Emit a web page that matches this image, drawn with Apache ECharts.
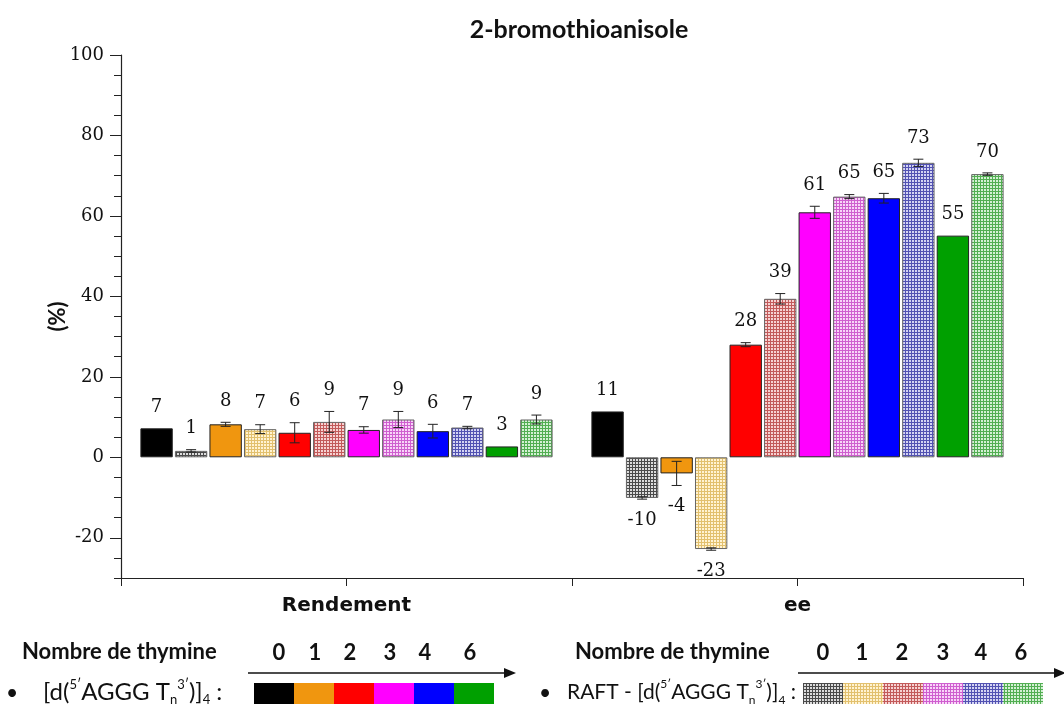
<!DOCTYPE html>
<html>
<head>
<meta charset="utf-8">
<script src="https://cdn.jsdelivr.net/npm/echarts@6/dist/echarts.min.js"></script>
<style>
  html, body { margin: 0; background: #fff; }
  #main { width: 1064px; height: 704px; }
</style>
</head>
<body>
<div id="main"></div>
<script>
// categories on the x axis
var categories = ['Rendement', 'ee'];
var thymine = ['0', '1', '2', '3', '4', '6'];
var yTicks = [-20, 0, 20, 40, 60, 80, 100];

// 12 bars per group : [d(AGGG Tn)]4 then RAFT, for n = 0,1,2,3,4,6
var rendement       = [7.2, 1.6, 8.2, 7.0, 6.1, 8.8, 6.8, 9.4, 6.5, 7.4, 2.7, 9.4];
var rendementErr    = [0, 0.3, 0.5, 1.1, 2.5, 2.6, 0.8, 2.0, 1.7, 0.3, 0, 1.1];
var rendementLabels = ['7', '1', '8', '7', '6', '9', '7', '9', '6', '7', '3', '9'];

var ee       = [11.4, -10.1, -4.0, -22.8, 28.0, 39.4, 60.9, 64.8, 64.4, 73.2, 55.1, 70.4];
var eeErr    = [0, 0.3, 3.0, 0.3, 0.5, 1.3, 1.5, 0.5, 1.2, 0.9, 0, 0.3];
var eeLabels = ['11', '-10', '-4', '-23', '28', '39', '61', '65', '65', '73', '55', '70'];

// colours
var solidColors = ['#000000', '#f0960f', '#ff0000', '#ff00ff', '#0000ff', '#00a000'];
var hatchColors = [
  ['#4a4a4a', '#dcdcdc'],
  ['#e2c06e', '#fff3d2'],
  ['#c25a5a', '#f6d2d2'],
  ['#cf5ecf', '#f8d4f8'],
  ['#5252b2', '#d4d4f2'],
  ['#52ae52', '#d4f0d4']
];

var barGap = 0.067, catGap = 0.086;

function makePattern(dark, light) {
  var c = document.createElement('canvas');
  c.width = 3; c.height = 3;
  var ctx = c.getContext('2d');
  ctx.fillStyle = dark;
  ctx.fillRect(0, 0, 3, 3);
  ctx.fillStyle = light;
  ctx.fillRect(0, 0, 2, 2);
  return { image: c, repeat: 'repeat' };
}
var patterns = hatchColors.map(function (p) { return makePattern(p[0], p[1]); });

var series = [];
for (var i = 0; i < 12; i++) {
  var t = Math.floor(i / 2);
  var raft = i % 2 === 1;
  series.push({
    type: 'bar',
    name: (raft ? 'RAFT n=' : 'n=') + thymine[t],
    data: [rendement[i], ee[i]],
    barGap: (barGap * 100) + '%',
    barCategoryGap: (catGap * 100) + '%',
    itemStyle: {
      color: raft ? patterns[t] : solidColors[t],
      borderColor: raft ? '#666' : '#222',
      borderWidth: 1
    }
  });
}

// error bars + value labels
var errData = [], errLabels = [];
for (var j = 0; j < 12; j++) {
  errData.push([0, j, rendement[j], rendementErr[j]]);
  errLabels.push(rendementLabels[j]);
  errData.push([1, j, ee[j], eeErr[j]]);
  errLabels.push(eeLabels[j]);
}

function renderErr(params, api) {
  var cat = api.value(0), idx = api.value(1), v = api.value(2), e = api.value(3);
  var band = api.size([1, 0])[0];
  var w = band * (1 - catGap) / (12 + 11 * barGap);
  var x = api.coord([cat, 0])[0] + (idx - 5.5) * w * (1 + barGap);
  var children = [];
  var yTop = api.coord([cat, v + e])[1];
  var yBot = api.coord([cat, v - e])[1];
  if (e > 0) {
    var ls = { stroke: '#222', lineWidth: 1 };
    children.push({ type: 'line', shape: { x1: x, y1: yTop, x2: x, y2: yBot }, style: ls });
    children.push({ type: 'line', shape: { x1: x - 5, y1: yTop, x2: x + 5, y2: yTop }, style: ls });
    children.push({ type: 'line', shape: { x1: x - 5, y1: yBot, x2: x + 5, y2: yBot }, style: ls });
  }
  var ly = v >= 0 ? yTop - 21 : yBot + 21;
  children.push({
    type: 'text',
    style: {
      text: errLabels[params.dataIndex], x: x, y: ly,
      align: 'center', verticalAlign: 'middle',
      fontFamily: 'DejaVu Serif', fontSize: 18, fill: '#111'
    }
  });
  return { type: 'group', children: children };
}

series.push({
  type: 'custom',
  data: errData,
  renderItem: renderErr,
  z: 10
});

// bottom legend (drawn as graphics)
function richLegend(size) {
  var small = Math.round(size * 0.56);
  return {
    n: { fontFamily: 'Lato', fontSize: size, fill: '#111', lineHeight: 28 },
    sup: { fontFamily: 'Lato', fontSize: small, fill: '#111', lineHeight: 28, verticalAlign: 'top' },
    sub: { fontFamily: 'Lato', fontSize: small, fill: '#111', lineHeight: 28, verticalAlign: 'bottom' }
  };
}
var seqText = '{n|[d(}{sup|5\u2032}{n|AGGG T}{sub|n}{sup|3\u2032}{n|)]}{sub|4}{n| :}';

function legendBlock(x0, numX, arrowX1, arrowX2, bulletX, textX, label, size, fills) {
  var g = [];
  g.push({ type: 'text', x: x0, y: 652, style: { text: 'Nombre de thymine', font: 'bold 22px Lato', fill: '#111', verticalAlign: 'middle' } });
  thymine.forEach(function (n, k) {
    g.push({ type: 'text', x: numX[k], y: 653, style: { text: n, font: 'bold 22px Lato', fill: '#111', align: 'center', verticalAlign: 'middle' } });
  });
  g.push({ type: 'line', shape: { x1: arrowX1, y1: 673, x2: arrowX2 - 8, y2: 673 }, style: { stroke: '#111', lineWidth: 1.5 } });
  g.push({ type: 'polygon', shape: { points: [[arrowX2, 673], [arrowX2 - 12, 668], [arrowX2 - 12, 678]] }, style: { fill: '#111' } });
  g.push({ type: 'text', x: bulletX, y: 693, style: { text: '\u2022', font: '21px Lato', fill: '#111', align: 'center', verticalAlign: 'middle' } });
  g.push({ type: 'text', x: textX, y: 692, style: { text: label, rich: richLegend(size), verticalAlign: 'middle' } });
  fills.forEach(function (f, k) {
    g.push({ type: 'rect', shape: { x: numX.blockX + k * 40, y: 683, width: 40, height: 22 }, style: { fill: f } });
  });
  return g;
}

var leftNum = [279, 315, 350, 390, 425, 470]; leftNum.blockX = 254;
var rightNum = [823, 862, 902, 943, 981, 1021]; rightNum.blockX = 803;

var graphics = []
  .concat(legendBlock(22, leftNum, 248, 516, 12, 43, seqText, 24, solidColors))
  .concat(legendBlock(575, rightNum, 798, 1066, 545, 567, '{n|RAFT - }' + seqText, 21, patterns));

var chart = echarts.init(document.getElementById('main'));
chart.setOption({
  animation: false,
  backgroundColor: '#fff',
  title: {
    text: '2-bromothioanisole',
    left: 574, top: 12, textAlign: 'center',
    textStyle: { fontFamily: 'Lato', fontWeight: 'bold', fontSize: 25, color: '#111' }
  },
  grid: { left: 121, right: 41, top: 55, bottom: 126 },
  xAxis: [{
    type: 'category', data: categories, position: 'bottom',
    axisLine: { onZero: false, lineStyle: { color: '#222', width: 1.2 } },
    axisTick: { show: true, length: 8, lineStyle: { color: '#222' } },
    axisLabel: { fontFamily: 'DejaVu Sans', fontWeight: 'bold', fontSize: 20, color: '#111', margin: 18 }
  }, {
    type: 'category', data: categories, position: 'bottom', offset: 0,
    axisLine: { show: false, onZero: false },
    axisTick: { show: true, alignWithLabel: true, length: 8, lineStyle: { color: '#222' } },
    axisLabel: { show: false }
  }],
  yAxis: [{
    type: 'value', min: -30, max: 100, interval: 5, position: 'left',
    axisLine: { show: true, lineStyle: { color: '#222', width: 1.2 } },
    axisTick: { show: true, length: 7, lineStyle: { color: '#222' } },
    axisLabel: { show: false },
    splitLine: { show: false }
  }, {
    type: 'value', min: -30, max: 100, interval: 5, position: 'left', offset: 0,
    axisLine: { show: false },
    axisTick: { show: true, length: 11, customValues: yTicks, lineStyle: { color: '#222' } },
    axisLabel: { customValues: yTicks, fontFamily: 'DejaVu Serif', fontSize: 18, color: '#111', margin: 17 },
    splitLine: { show: false },
    name: '(%)', nameLocation: 'middle', nameGap: 52, nameRotate: 90, nameMoveOverlap: false,
    nameTextStyle: { fontFamily: 'Lato', fontWeight: 'bold', fontSize: 22, color: '#111' }
  }],
  graphic: graphics,
  series: series
});
</script>
</body>
</html>
